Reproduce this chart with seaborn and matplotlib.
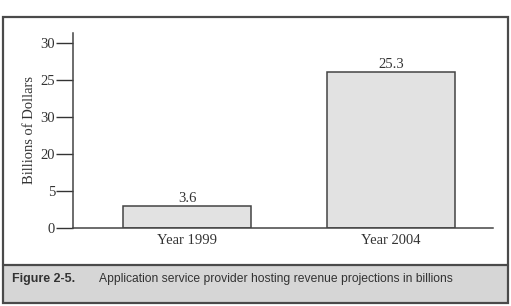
import matplotlib
matplotlib.use("Agg")
import matplotlib.pyplot as plt
from matplotlib.patches import Rectangle
import pandas as pd
import seaborn as sns

# data
years = ["Year 1999", "Year 2004"]
revenue = [3.6, 25.3]
tick_pos = [0, 6, 12, 18, 24, 30]
tick_labels = ["0", "5", "20", "30", "25", "30"]  # as printed in the original

df = pd.DataFrame({"year": years, "revenue": revenue})

sns.set_style("white")
plt.rcParams["font.family"] = ["Liberation Serif", "DejaVu Serif"]

fig = plt.figure(figsize=(5.11, 3.06), dpi=100)

# outer frame and caption band
fig.patches.append(Rectangle((3/511, 3/306), 505/511, 38/306, transform=fig.transFigure,
                             facecolor="#d6d6d6", edgecolor="none", zorder=0))
fig.patches.append(Rectangle((3/511, 3/306), 505/511, 286/306, transform=fig.transFigure,
                             facecolor="none", edgecolor="#4a4a4a", lw=1.6, zorder=5))
fig.lines.append(plt.Line2D([3/511, 508/511], [41/306, 41/306], transform=fig.transFigure,
                            color="#4a4a4a", lw=1.6, zorder=5))

ax = fig.add_axes([73/511, 78/306, 420/511, 195/306])
sns.barplot(data=df, x="year", y="revenue", color="#e2e2e2", edgecolor="#444444",
            linewidth=1.1, width=0.63, saturation=1, ax=ax)

ax.set_xlim(-0.56, 1.5)
ax.set_ylim(0, 31.6)
ax.set_yticks(tick_pos)
ax.set_yticklabels(tick_labels)
ax.tick_params(axis="y", length=12, width=1.0, color="#333333", labelsize=10.5,
               labelcolor="#333333", pad=1, left=True)
ax.tick_params(axis="x", length=0, labelsize=10.5, labelcolor="#333333", pad=4)
ax.set_xlabel("")
ax.set_ylabel("Billions of Dollars", fontsize=10.5, color="#333333", labelpad=3)

for s in ["top", "right"]:
    ax.spines[s].set_visible(False)
for s in ["left", "bottom"]:
    ax.spines[s].set_color("#444444")
    ax.spines[s].set_linewidth(1.1)

for i, v in enumerate(revenue):
    ax.text(i, v + 0.2, f"{v}", ha="center", va="bottom", fontsize=10.5, color="#333333")

cap_font = ["Liberation Sans Narrow", "Liberation Sans", "DejaVu Sans"]
fig.text(12/511, 27/306, "Figure 2-5.", fontsize=9, fontweight="bold",
         family=cap_font, color="#333333", va="center")
fig.text(99/511, 27/306, "Application service provider hosting revenue projections in billions",
         fontsize=8.7, family=cap_font, color="#333333", va="center")

fig.savefig("out.png", dpi=100)
